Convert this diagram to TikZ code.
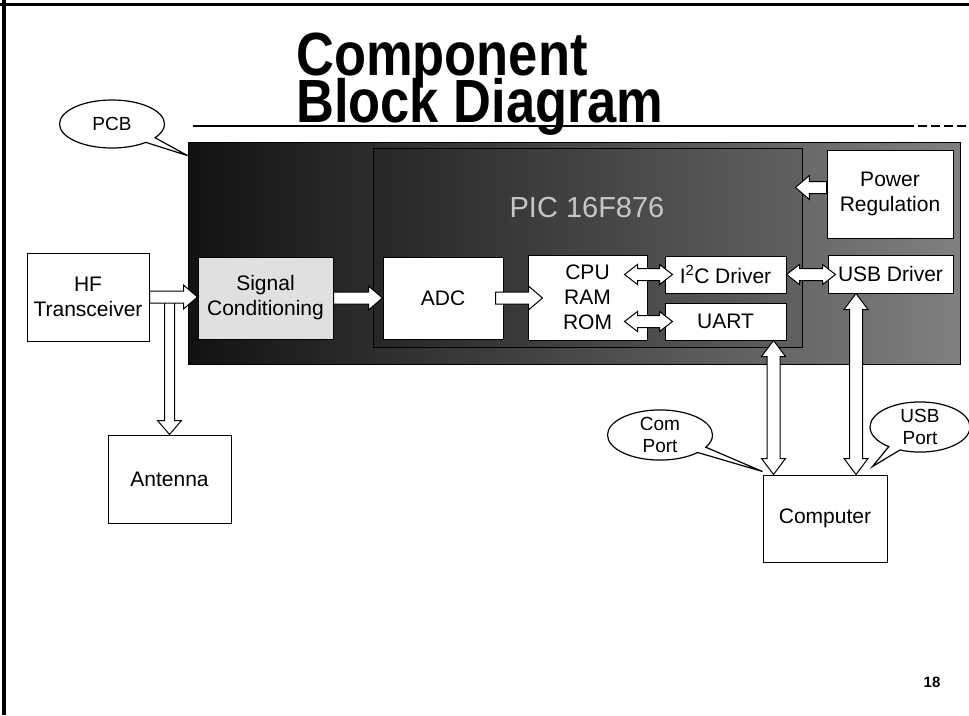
\documentclass[tikz,border=0pt]{standalone}
\usepackage{fontspec}
\setmainfont{Liberation Sans}
\usetikzlibrary{calc,shapes.geometric,shapes.callouts,positioning,scopes}
\tikzset{fat_h/.style={draw, fill=white, line width=1pt, to path={
      let \p1=(\tikztostart), \p2=(\tikztotarget), \p3=($(\x2,\y1)!14pt!(\p1)$) in
      (\x1,\y1+6pt) -- (\x3,\y1+6pt) -- (\x3,\y1+12pt) -- (\x2,\y1)
      -- (\x3,\y1-12pt) -- (\x3,\y1-6pt) -- (\x1,\y1-6pt) -- cycle}},
  fat_v/.style={draw, fill=white, line width=1pt, to path={
      let \p1=(\tikztostart), \p2=(\tikztotarget), \p3=($(\x1,\y2)!14pt!(\p1)$) in
      (\x1+5pt,\y1) -- (\x1+5pt,\y3) -- (\x1+12pt,\y3) -- (\x1,\y2)
      -- (\x1-12pt,\y3) -- (\x1-5pt,\y3) -- (\x1-5pt,\y1) -- cycle}},
  fat_dh/.style={draw, fill=white, line width=1pt, to path={
      let \p1=(\tikztostart), \p2=(\tikztotarget),
      \p3=($(\x2,\y1)!13pt!(\p1)$), \p4=($(\p1)!13pt!(\x2,\y1)$) in
      (\x1,\y1) -- (\x4,\y1+10pt) -- (\x4,\y1+6pt) -- (\x3,\y1+6pt) -- (\x3,\y1+10pt) -- (\x2,\y1)
      -- (\x3,\y1-10pt) -- (\x3,\y1-6pt) -- (\x4,\y1-6pt) -- (\x4,\y1-10pt) -- cycle}},
  fat_dv/.style={draw, fill=white, line width=1pt, to path={
      let \p1=(\tikztostart), \p2=(\tikztotarget),
      \p3=($(\x1,\y2)!16pt!(\p1)$), \p4=($(\p1)!16pt!(\x1,\y2)$) in
      (\x1,\y1) -- (\x1+12pt,\y4) -- (\x1+6.5pt,\y4) -- (\x1+6.5pt,\y3) -- (\x1+12pt,\y3) -- (\x1,\y2)
      -- (\x1-12pt,\y3) -- (\x1-6.5pt,\y3) -- (\x1-6.5pt,\y4) -- (\x1-12pt,\y4) -- cycle}}
}
\begin{document}
\begin{tikzpicture}[x=1pt,y=-1pt]
  \tikzstyle{block}=[draw, fill=white, line width=1pt, inner sep=0pt, align=center, font=\fontsize{21}{25}\selectfont]
  \tikzstyle{bubble}=[ellipse callout, draw, fill=white, line width=1.2pt, inner sep=0pt, align=center, font=\fontsize{19}{22}\selectfont]
  \tikzstyle{heading}=[anchor=base west, inner sep=0pt, align=left, font=\bfseries\fontsize{61}{47}\selectfont]
  \useasboundingbox (0,0) rectangle (969,715);
  \draw[line width=3pt] (0,4) -- (969,4);
  \draw[line width=4pt] (4,0) -- (4,715);
  \draw[line width=1.2pt] (193,126) -- (905,126);
  \draw[line width=1.2pt, dash pattern=on 9pt off 4pt] (905,126) -- (969,126);
  \node[heading] (title) at (296,122) {\scalebox{0.86}[1]{\smash{Component}}\\\scalebox{0.86}[1]{\smash{Block Diagram}}};
  \begin{scope}
    \node[draw, line width=0.8pt, left color=black!93, right color=black!50, minimum width=772pt, minimum height=222pt, inner sep=0pt] (pcb) at (574,253) {};
    \node[draw, line width=0.8pt, left color=black!85, right color=black!62, minimum width=429pt, minimum height=199pt, inner sep=0pt] (pic) at (587.5,247.5) {};
    \node[text=black!22, font=\fontsize{29}{29}\selectfont] (pic_name) at (587,208) {PIC 16F876};
  \end{scope}
  \node[block, minimum width=122pt, minimum height=88pt] (hf) at (88,297) {HF\\Transceiver};
  \node[block, fill=black!12, minimum width=135pt, minimum height=82pt] (sig) at (265.5,298) {Signal\\Conditioning};
  \node[block, minimum width=120pt, minimum height=82pt] (adc) at (443,298) {ADC};
  \node[block, minimum width=119pt, minimum height=85pt] (cpu) at (587.5,297.5) {CPU\\RAM\\ROM};
  \node[block, minimum width=121pt, minimum height=37pt] (i2c) at (725.5,274.5) {I\textsuperscript{2}C Driver};
  \node[block, minimum width=121pt, minimum height=37pt] (uart) at (725.5,321.5) {UART};
  \node[block, minimum width=126pt, minimum height=88pt] (power) at (890,194) {Power\\Regulation};
  \node[block, minimum width=125pt, minimum height=38pt] (usb) at (890.5,274) {USB Driver};
  \node[block, minimum width=123pt, minimum height=88pt] (ant) at (169.5,479) {Antenna};
  \node[block, minimum width=124pt, minimum height=87pt] (pc) at (825,518.5) {Computer};
  \draw[fat_v] ([xshift=20pt]hf.east) to (ant.north);
  \draw[fat_h] (hf.east) to (sig.west);
  \draw[fat_h] (sig.east) to (adc.west);
  \draw[fat_h] ([xshift=-8pt]adc.east) to ([xshift=15pt]cpu.west);
  \draw[fat_dh] ([xshift=8pt]i2c.west) to ([xshift=-23pt]cpu.east);
  \draw[fat_dh] ([xshift=8pt]uart.west) to ([xshift=-23pt]cpu.east);
  \draw[fat_dh] (i2c.east) to ([xshift=8pt]usb.west);
  \draw[fat_h] ([yshift=6.5pt]power.west) to ([xshift=-7pt]pic.east);
  \draw[fat_dv] ([xshift=48pt]uart.south) to (pc.north);
  \draw[fat_dv] ([xshift=-34.5pt]usb.south) to (pc.north);
  \node[bubble, minimum width=105pt, minimum height=48pt, callout absolute pointer={([yshift=-14pt]pcb.north west)}] (pcb_note) at (112,124) {PCB};
  \node[bubble, minimum width=105pt, minimum height=47pt, callout absolute pointer={([yshift=3pt]pc.north west)}] (com_note) at (660,435) {Com\\Port};
  \node[bubble, minimum width=100pt, minimum height=47pt, callout absolute pointer={([xshift=-15pt,yshift=8pt]pc.north east)}] (usb_note) at (920,427) {USB\\Port};
  \node[font=\bfseries\fontsize{15}{15}\selectfont] (page) at (932,682) {18};
\end{tikzpicture}
\end{document}
